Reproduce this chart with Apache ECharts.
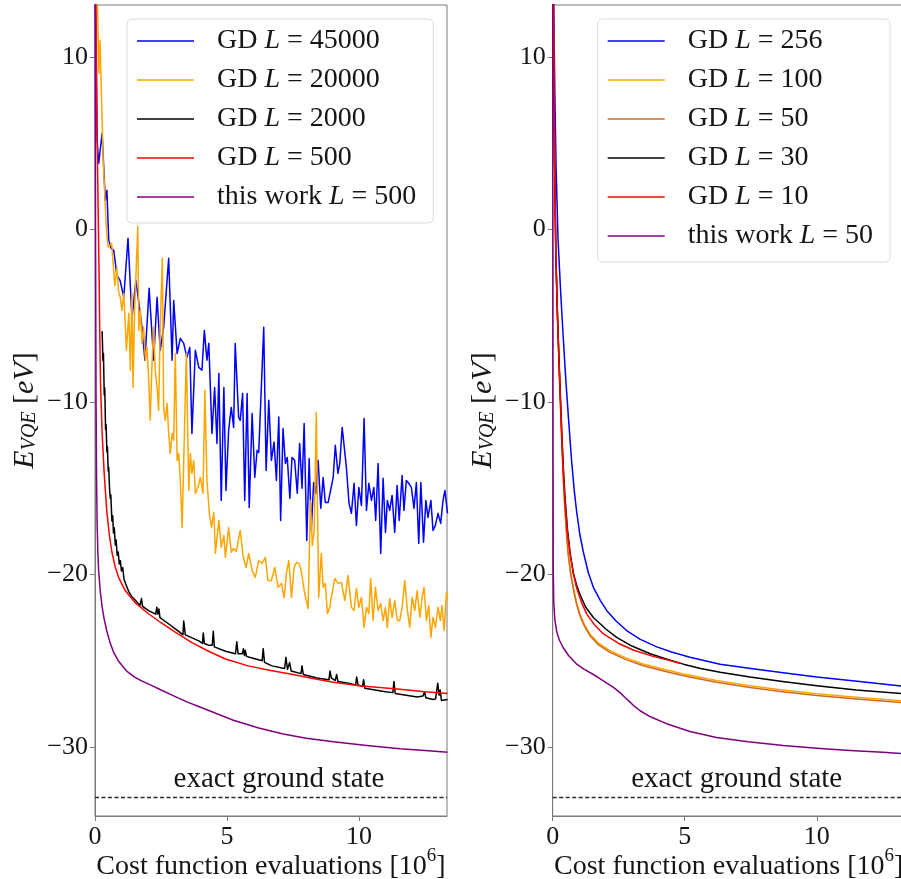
<!DOCTYPE html>
<html><head><meta charset="utf-8">
<script src="https://cdn.jsdelivr.net/npm/echarts@6/dist/echarts.min.js"></script>
<style>html,body{margin:0;padding:0;background:#fff;overflow:hidden}#c{width:901px;height:879px}</style>
</head><body><div id="c"></div>
<script>
// ---------------- data (x in 10^6 evaluations, y in eV) ----------------
const xTicks = [0, 5, 10];
const yTicks = [-30, -20, -10, 0, 10];
const groundState = -32.9;
const groundLabel = 'exact ground state';
const leftNames = ['GD L = 45000', 'GD L = 20000', 'GD L = 2000', 'GD L = 500', 'this work L = 500'];
const rightNames = ['GD L = 256', 'GD L = 100', 'GD L = 50', 'GD L = 30', 'GD L = 10', 'this work L = 50'];

const leftBlue = [[0,16],[0.08,5.16],[0.14,3.83],[0.27,5.57],[0.39,1.68],[0.45,2.26],[0.52,-0.64],[0.61,-1.10],[0.71,-1.22],[0.83,-2.67],[0.95,-2.96],[1.09,-3.94],[1.25,-0.52],[1.40,-5.16],[1.55,-2.96],[1.78,-5.68],[1.89,-7.59],[2.05,-3.42],[2.22,-7.59],[2.35,-3.94],[2.47,-7.01],[2.60,-5.68],[2.79,-1.68],[2.92,-7.59],[2.98,-4.12],[3.11,-7.19],[3.23,-6.32],[3.36,-6.61],[3.48,-7.42],[3.59,-6.84],[3.67,-11.83],[3.80,-7.01],[3.93,-8.00],[4.05,-8.17],[4.14,-5.86],[4.24,-7.59],[4.31,-6.61],[4.43,-11.83],[4.53,-9.16],[4.62,-12.41],[4.69,-8.35],[4.78,-15.71],[4.88,-9.16],[4.96,-15.13],[5.06,-11.65],[5.16,-10.32],[5.25,-11.48],[5.31,-6.61],[5.44,-10.90],[5.50,-11.07],[5.59,-9.51],[5.67,-15.71],[5.76,-9.51],[5.84,-16.12],[5.95,-10.67],[6.05,-14.38],[6.14,-12.81],[6.20,-12.93],[6.39,-5.68],[6.48,-13.97],[6.58,-9.91],[6.68,-13.39],[6.78,-12.33],[6.87,-14.55],[6.96,-10.88],[7.03,-16.87],[7.12,-11.54],[7.21,-13.57],[7.28,-13.22],[7.38,-15.59],[7.46,-13.22],[7.56,-13.39],[7.66,-15.30],[7.75,-12.41],[7.84,-15.01],[7.92,-11.25],[8.02,-18.03],[8.11,-13.28],[8.19,-17.45],[8.28,-14.67],[8.36,-15.30],[8.45,-13.39],[8.55,-16.17],[8.64,-14.38],[8.72,-15.83],[8.83,-15.83],[9.02,-14.38],[9.10,-12.52],[9.20,-14.14],[9.27,-13.57],[9.36,-11.48],[9.52,-13.80],[9.62,-15.88],[9.71,-16.46],[9.81,-14.72],[9.90,-17.16],[9.99,-14.96],[10.09,-16.00],[10.19,-10.96],[10.28,-16.29],[10.37,-14.72],[10.47,-15.71],[10.56,-14.96],[10.63,-16.87],[10.72,-13.57],[10.82,-18.78],[10.91,-14.43],[11.00,-17.57],[11.07,-15.71],[11.16,-16.29],[11.25,-15.42],[11.35,-17.57],[11.44,-14.84],[11.52,-16.87],[11.63,-14.26],[11.70,-16.29],[11.79,-14.55],[11.88,-14.72],[11.98,-14.96],[12.08,-16.17],[12.17,-14.67],[12.26,-18.20],[12.34,-14.67],[12.44,-18.14],[12.53,-15.71],[12.61,-16.70],[12.72,-15.71],[12.80,-17.45],[12.89,-17.16],[12.99,-16.46],[13.09,-17.04],[13.18,-15.71],[13.25,-15.13],[13.35,-16.46]];

const leftOrange = [[0.02,18],[0.15,9.04],[0.19,10.96],[0.25,7.48],[0.31,4.00],[0.38,1.68],[0.44,-0.23],[0.50,-1.04],[0.63,-0.81],[0.75,-3.25],[0.83,-2.26],[0.90,-3.71],[0.96,-3.94],[1.02,-4.70],[1.09,-3.71],[1.19,-7.01],[1.28,-4.87],[1.34,-8.17],[1.40,-3.71],[1.44,-9.16],[1.50,-4.70],[1.62,0.17],[1.66,-5.86],[1.72,-4.70],[1.78,-6.61],[1.84,-5.68],[1.91,-7.59],[1.97,-6.84],[2.03,-8.58],[2.09,-11.07],[2.16,-7.77],[2.22,-5.68],[2.28,-8.17],[2.35,-9.16],[2.41,-10.49],[2.47,-5.68],[2.55,-1.68],[2.60,-10.32],[2.66,-11.07],[2.73,-10.09],[2.79,-11.83],[2.85,-12.99],[2.92,-11.83],[2.98,-12.23],[3.04,-7.19],[3.11,-13.39],[3.17,-12.99],[3.23,-14.55],[3.30,-17.28],[3.36,-13.39],[3.46,-7.19],[3.55,-15.13],[3.61,-12.99],[3.67,-14.14],[3.74,-13.39],[3.80,-15.30],[3.90,-14.96],[3.99,-14.38],[4.09,-15.30],[4.16,-9.33],[4.24,-14.55],[4.33,-16.46],[4.41,-17.28],[4.50,-16.41],[4.56,-18.78],[4.69,-16.87],[4.78,-18.43],[4.88,-17.74],[4.94,-19.01],[5.06,-17.28],[5.16,-18.72],[5.25,-18.49],[5.35,-18.67],[5.50,-17.45],[5.61,-18.96],[5.72,-19.59],[5.82,-18.78],[5.95,-19.77],[6.07,-20.17],[6.20,-19.19],[6.33,-19.36],[6.45,-19.01],[6.55,-20.35],[6.68,-20.35],[6.81,-19.59],[6.93,-20.75],[7.06,-20.52],[7.16,-21.33],[7.25,-19.94],[7.34,-19.19],[7.44,-21.33],[7.54,-19.59],[7.63,-19.30],[7.72,-19.36],[7.81,-19.77],[7.92,-20.93],[8.00,-21.51],[8.07,-21.97],[8.16,-15.71],[8.23,-18.32],[8.30,-17.45],[8.38,-10.61],[8.47,-21.33],[8.57,-18.78],[8.64,-20.75],[8.72,-20.52],[8.80,-22.26],[8.89,-21.91],[8.95,-21.33],[9.08,-20.23],[9.20,-20.52],[9.33,-20.46],[9.46,-21.51],[9.58,-20.06],[9.71,-21.91],[9.81,-22.09],[9.90,-20.81],[9.99,-21.91],[10.09,-21.33],[10.19,-23.07],[10.28,-21.91],[10.37,-22.26],[10.44,-20.23],[10.53,-22.67],[10.62,-20.75],[10.72,-22.09],[10.82,-21.68],[10.91,-22.67],[11.00,-21.91],[11.07,-23.07],[11.16,-21.39],[11.25,-22.49],[11.35,-21.51],[11.45,-22.67],[11.54,-22.67],[11.63,-21.91],[11.73,-20.35],[11.83,-22.09],[11.92,-23.07],[12.01,-21.33],[12.11,-22.09],[12.20,-20.93],[12.30,-22.49],[12.39,-21.33],[12.46,-20.75],[12.55,-22.67],[12.64,-21.80],[12.72,-23.65],[12.80,-22.49],[12.89,-23.07],[12.99,-21.91],[13.08,-22.67],[13.14,-21.80],[13.22,-23.25],[13.31,-21.04],[13.35,-21.51]];

const leftBlack = [[0.27,-5.9],[0.30,-7.6],[0.32,-7.2],[0.35,-9.6],[0.37,-9.2],[0.40,-11.6],[0.42,-11.3],[0.45,-12.9],[0.47,-12.6],[0.50,-14.0],[0.52,-13.8],[0.55,-15.0],[0.58,-15.6],[0.60,-15.4],[0.64,-16.9],[0.67,-16.6],[0.70,-17.6],[0.73,-17.3],[0.77,-18.3],[0.80,-18.0],[0.84,-18.9],[0.88,-18.7],[0.92,-19.4],[0.96,-19.2],[1.00,-19.8],[1.05,-19.6],[1.10,-20.3],[1.15,-20.4],[1.20,-20.7],[1.28,-21.0],[1.40,-21.3],[1.53,-21.5],[1.70,-21.8],[1.76,-21.4],[1.80,-21.85],[2.03,-22.1],[2.30,-22.3],[2.34,-21.9],[2.38,-22.3],[2.42,-22.0],[2.46,-22.5],[2.73,-22.8],[3.17,-23.3],[3.33,-23.5],[3.36,-22.7],[3.42,-23.5],[3.93,-23.85],[4.07,-24.0],[4.10,-23.4],[4.14,-24.0],[4.30,-24.1],[4.44,-24.1],[4.48,-23.3],[4.52,-24.2],[4.94,-24.45],[5.32,-24.6],[5.37,-23.9],[5.42,-24.6],[5.58,-24.6],[5.62,-24.3],[5.66,-24.7],[5.69,-24.4],[5.74,-24.75],[5.85,-24.8],[6.33,-25.0],[6.37,-24.3],[6.42,-25.1],[6.70,-25.3],[7.18,-25.45],[7.23,-24.8],[7.29,-25.5],[7.37,-25.1],[7.43,-25.6],[7.80,-25.75],[7.84,-25.3],[7.89,-25.8],[8.40,-26.0],[8.86,-26.1],[8.90,-25.6],[8.95,-26.0],[9.10,-26.15],[9.15,-25.8],[9.20,-26.2],[9.60,-26.3],[9.87,-26.4],[9.91,-25.95],[9.96,-26.4],[10.13,-26.5],[10.17,-26.1],[10.22,-26.6],[11.00,-26.8],[11.28,-26.85],[11.32,-26.2],[11.37,-26.9],[12.20,-27.1],[12.42,-27.05],[12.48,-26.8],[12.53,-27.15],[12.80,-27.25],[12.90,-27.2],[12.98,-26.3],[13.03,-27.0],[13.07,-26.7],[13.12,-27.3],[13.35,-27.25]];

const leftRed = [[0.0,20],[0.04,12],[0.08,5.5],[0.12,1.0],[0.15,-2.0],[0.18,-6.0],[0.21,-9.0],[0.27,-11.8],[0.35,-14.2],[0.45,-16.4],[0.55,-17.8],[0.64,-18.7],[0.77,-19.6],[0.90,-20.2],[1.15,-20.95],[1.53,-21.65],[2.0,-22.25],[2.5,-22.8],[3.04,-23.35],[3.67,-23.95],[4.3,-24.45],[4.94,-24.9],[5.8,-25.3],[6.6,-25.55],[7.5,-25.8],[8.3,-26.05],[9.03,-26.25],[10.0,-26.45],[11.55,-26.65],[12.5,-26.8],[13.35,-26.9]];

const leftPurple = [[0,14],[0.02,0],[0.04,-10],[0.06,-14.5],[0.08,-17.0],[0.11,-18.8],[0.14,-19.8],[0.2,-21.0],[0.27,-21.9],[0.35,-22.6],[0.45,-23.3],[0.57,-23.95],[0.7,-24.5],[0.9,-25.05],[1.2,-25.6],[1.5,-25.95],[1.8,-26.2],[2.1,-26.4],[2.5,-26.7],[3.0,-27.05],[3.5,-27.4],[4.0,-27.7],[4.5,-28.0],[5.24,-28.45],[6.2,-28.9],[7.13,-29.25],[8.0,-29.5],[9.03,-29.7],[10.2,-29.9],[11.55,-30.1],[12.5,-30.2],[13.35,-30.3]];

const rightBlue = [[0,22],[0.04,13],[0.08,8],[0.13,3.5],[0.2,-0.5],[0.3,-3.6],[0.4,-6.3],[0.5,-8.8],[0.6,-11.0],[0.72,-13.5],[0.82,-15.2],[0.91,-16.4],[1.03,-17.7],[1.16,-18.7],[1.35,-19.9],[1.54,-20.75],[1.8,-21.5],[2.05,-22.1],[2.4,-22.7],[2.8,-23.25],[3.3,-23.75],[3.94,-24.2],[4.5,-24.5],[5.2,-24.8],[6.34,-25.2],[7.5,-25.45],[8.73,-25.7],[10.0,-25.95],[11.26,-26.15],[12.5,-26.35],[13.4,-26.5]];
const rightOrange = [[0,25],[0.03,12],[0.07,4],[0.12,-1.5],[0.18,-5],[0.25,-8.3],[0.3,-10.4],[0.35,-12.5],[0.41,-14.6],[0.47,-16.3],[0.53,-17.7],[0.59,-18.8],[0.68,-19.9],[0.78,-20.74],[0.9,-21.6],[1.03,-22.29],[1.2,-22.9],[1.41,-23.45],[1.75,-24.0],[2.17,-24.42],[2.8,-24.85],[3.43,-25.19],[4.2,-25.5],[4.95,-25.77],[6.2,-26.15],[7.47,-26.45],[8.7,-26.7],[10,-26.92],[11.5,-27.12],[13.4,-27.34]];
const rightBrown = [[0,25],[0.03,12],[0.07,4],[0.12,-1.5],[0.18,-5],[0.25,-8.35],[0.3,-10.5],[0.35,-12.6],[0.41,-14.7],[0.47,-16.4],[0.53,-17.8],[0.59,-18.9],[0.68,-20.0],[0.78,-20.84],[0.9,-21.7],[1.03,-22.39],[1.2,-23.0],[1.41,-23.55],[1.75,-24.1],[2.17,-24.52],[2.8,-24.95],[3.43,-25.29],[4.2,-25.6],[4.95,-25.87],[6.2,-26.25],[7.47,-26.55],[8.7,-26.8],[10,-27.02],[11.5,-27.22],[13.4,-27.44]];
const rightBlack = [[0,25],[0.03,12],[0.07,4],[0.12,-1.5],[0.18,-5],[0.25,-8.0],[0.3,-10.0],[0.35,-12.0],[0.41,-14.0],[0.47,-15.6],[0.56,-17.4],[0.66,-18.75],[0.78,-19.9],[0.9,-20.6],[1.03,-21.15],[1.25,-21.9],[1.54,-22.5],[2.0,-23.15],[2.42,-23.65],[3.0,-24.15],[3.69,-24.6],[4.3,-24.9],[4.95,-25.2],[5.6,-25.45],[6.34,-25.67],[7.47,-25.95],[8.7,-26.2],[10.0,-26.45],[11.5,-26.7],[13.4,-26.92]];
const rightRed = [[0,25],[0.03,12],[0.07,4],[0.12,-1.5],[0.18,-5],[0.25,-8.1],[0.3,-10.2],[0.35,-12.2],[0.41,-14.3],[0.47,-15.9],[0.56,-17.6],[0.66,-18.85],[0.78,-19.95],[0.91,-20.8],[1.1,-21.65],[1.29,-22.3],[1.6,-22.95],[1.92,-23.45],[2.5,-24.0],[3.05,-24.38],[3.8,-24.75],[4.4,-24.98],[4.7,-25.1],[4.85,-25.16]];
const rightPurple = [[0,15],[0.005,2],[0.01,-10],[0.02,-19.5],[0.04,-21.6],[0.08,-22.6],[0.15,-23.3],[0.25,-23.8],[0.4,-24.25],[0.6,-24.7],[0.91,-25.2],[1.2,-25.5],[1.54,-25.8],[1.8,-26.05],[2.05,-26.3],[2.3,-26.55],[2.55,-26.85],[2.75,-27.15],[2.93,-27.4],[3.1,-27.65],[3.31,-27.9],[3.7,-28.25],[4.31,-28.65],[5.2,-29.1],[6.2,-29.45],[7.4,-29.7],[8.73,-29.92],[10.0,-30.07],[11.26,-30.2],[12.5,-30.3],[13.4,-30.4]];

// ---------------- chart ----------------
const FONT = "'Liberation Serif', 'DejaVu Serif', serif";
const TXT = '#161616';
const FRAME = '#7a7a7a';
const X_MAX = 13.33;
const chart = echarts.init(document.getElementById('c'), null, {renderer: 'canvas'});

function legendFmt(name) {
  const m = name.match(/^(.*)L = (\d+)$/);
  return '{s| }{n|' + m[1] + '}{i|L}{n| = ' + m[2] + '}';
}
const legendRich = {
  s: {width: 18, fontSize: 28, lineHeight: 30},
  n: {fontFamily: FONT, fontSize: 28, color: TXT, lineHeight: 30},
  i: {fontFamily: FONT, fontSize: 28, color: TXT, fontStyle: 'italic', lineHeight: 30}
};
function legendCfg(names, left) {
  return {
    data: names, left: left, top: 19, orient: 'vertical',
    icon: 'rect', itemWidth: 57, itemHeight: 1.6, itemGap: 9,
    padding: [7, 17, 11, 10],
    backgroundColor: 'rgba(255,255,255,0.85)', borderColor: '#dcdcdc', borderWidth: 1, borderRadius: 5,
    selectedMode: false,
    formatter: legendFmt,
    textStyle: {fontFamily: FONT, fontSize: 28, color: TXT, lineHeight: 30, rich: legendRich}
  };
}
const minus = v => String(v).replace('-', '\u2212');
function xAxisCfg(gi) {
  return {
    gridIndex: gi, type: 'value', min: 0, max: X_MAX,
    axisLine: {show: true, onZero: false, lineStyle: {color: FRAME, width: 1}},
    axisTick: {show: true, length: 5, customValues: xTicks, lineStyle: {color: FRAME}},
    axisLabel: {customValues: xTicks, formatter: minus, fontFamily: FONT, fontSize: 26, color: TXT, margin: 8},
    splitLine: {show: false},
    name: '{n|Cost function evaluations [10}{sup|6}{n|]}',
    nameLocation: 'middle', nameGap: 31, nameMoveOverlap: false,
    nameTextStyle: {fontFamily: FONT, fontSize: 28, color: TXT, rich: {
      n: {fontFamily: FONT, fontSize: 28, color: TXT, lineHeight: 34, verticalAlign: 'bottom'},
      sup: {fontFamily: FONT, fontSize: 19, color: TXT, lineHeight: 22, verticalAlign: 'top'}
    }}
  };
}
function yAxisCfg(gi) {
  return {
    gridIndex: gi, type: 'value', min: -34, max: 13,
    axisLine: {show: true, onZero: false, lineStyle: {color: FRAME, width: 1}},
    axisTick: {show: true, length: 5, customValues: yTicks, lineStyle: {color: FRAME}},
    axisLabel: {customValues: yTicks, formatter: minus, fontFamily: FONT, fontSize: 26, color: TXT, margin: 7},
    splitLine: {show: false},
    name: '{i|E}{sub|VQE}{n| [}{i|eV}{n|]}',
    nameLocation: 'middle', nameGap: 55, nameRotate: 90,
    nameTextStyle: {fontFamily: FONT, fontSize: 30, color: TXT, rich: {
      n: {fontFamily: FONT, fontSize: 30, color: TXT, lineHeight: 34, verticalAlign: 'bottom'},
      i: {fontFamily: FONT, fontSize: 30, color: TXT, fontStyle: 'italic', lineHeight: 34, verticalAlign: 'bottom'},
      sub: {fontFamily: FONT, fontSize: 20, color: TXT, fontStyle: 'italic', lineHeight: 18, verticalAlign: 'bottom'}
    }}
  };
}
function groundLine() {
  return {
    silent: true, symbol: ['none', 'none'], animation: false,
    lineStyle: {color: '#2a2a2a', type: [4, 2.5], width: 1.3},
    label: {show: true, position: 'insideMiddleTop', formatter: groundLabel, distance: 3,
            padding: [0, 0, 0, 16],
            fontFamily: FONT, fontSize: 29, color: TXT},
    data: [{yAxis: groundState}]
  };
}
function line(name, data, color, gi, extra) {
  return Object.assign({
    name: name, type: 'line', data: data, xAxisIndex: gi, yAxisIndex: gi,
    symbol: 'none', showSymbol: false, clip: true, smooth: false,
    lineStyle: {color: color, width: 1.5, join: 'round'}, itemStyle: {color: color},
    emphasis: {disabled: true}, animation: false
  }, extra || {});
}

const gridBase = {top: 5, width: 352, height: 811, show: true, borderColor: FRAME, borderWidth: 1,
                  backgroundColor: 'transparent', containLabel: false, outerBoundsMode: 'none'};
const option = {
  backgroundColor: '#fff',
  animation: false,
  grid: [Object.assign({left: 95}, gridBase), Object.assign({left: 552.7}, gridBase)],
  xAxis: [xAxisCfg(0), xAxisCfg(1)],
  yAxis: [yAxisCfg(0), yAxisCfg(1)],
  legend: [legendCfg(leftNames, 127), legendCfg(rightNames, 597.7)],
  series: [
    line(leftNames[0], leftBlue, '#0000ff', 0),
    line(leftNames[1], leftOrange, '#ffa500', 0),
    line(leftNames[2], leftBlack, '#000000', 0),
    line(leftNames[3], leftRed, '#ff0000', 0),
    line(leftNames[4], leftPurple, '#800080', 0, {markLine: groundLine()}),
    line(rightNames[0], rightBlue, '#0000ff', 1),
    line(rightNames[1], rightOrange, '#ffa500', 1),
    line(rightNames[2], rightBrown, '#d2691e', 1),
    line(rightNames[3], rightBlack, '#000000', 1),
    line(rightNames[4], rightRed, '#ff0000', 1),
    line(rightNames[5], rightPurple, '#800080', 1, {markLine: groundLine()})
  ]
};
chart.setOption(option);
</script>
</body></html>
